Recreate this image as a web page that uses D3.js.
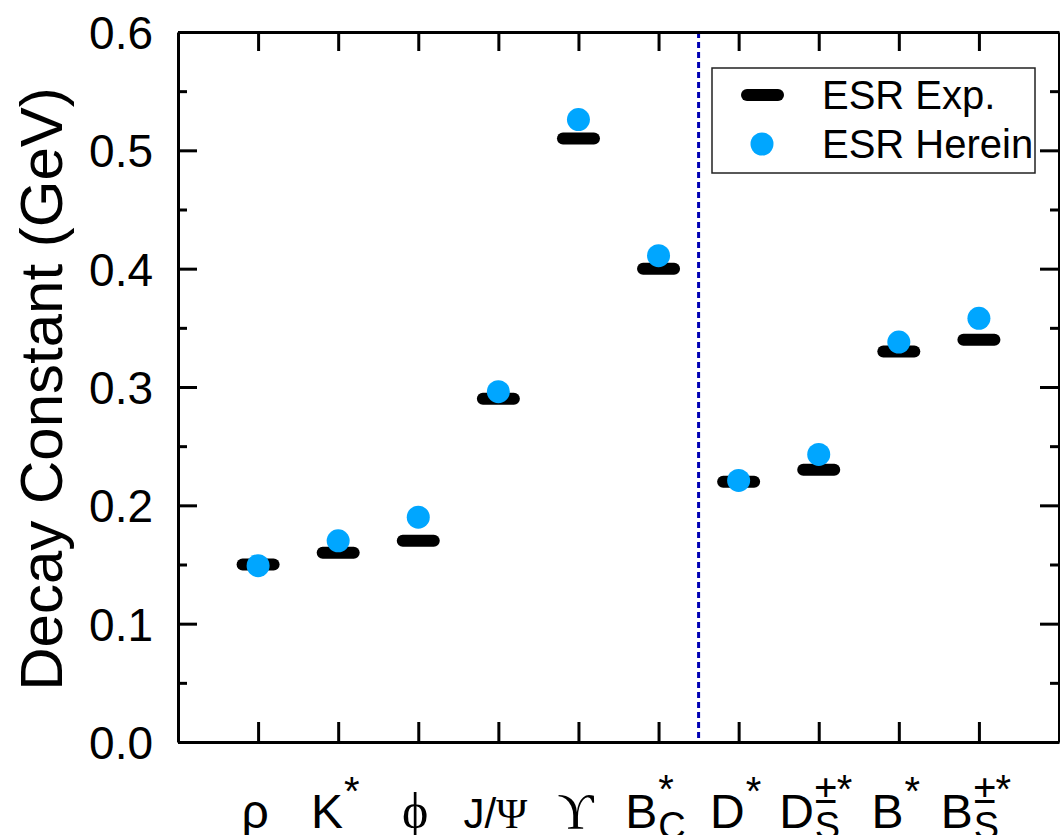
<!DOCTYPE html>
<html><head><meta charset="utf-8">
<script src="https://cdn.jsdelivr.net/npm/d3@7"></script>
<style>body{margin:0;background:#fff} svg{display:block}</style>
</head><body><svg id="c" width="1060" height="835"></svg>
<script>
// ---- data ----
const categories = ["rho","K*","phi","J/Psi","Upsilon","Bc*","D*","Ds*","B*","Bs*"];
const labelBase = ["ρ","K","ϕ","J/Ψ","ϒ","B","D","D","B","B"];
const labelSub  = ["","","","","","C","","S","","S"];
const labelSup  = ["","*","","","","*","*","±*","*","±*"];
const esrExp    = [0.150,0.160,0.170,0.290,0.510,0.400,0.220,0.230,0.330,0.340];
const esrHerein = [0.149,0.170,0.190,0.296,0.526,0.411,0.221,0.243,0.338,0.358];
const yMajor = [0,0.1,0.2,0.3,0.4,0.5,0.6];
const yMinor = [0.05,0.15,0.25,0.35,0.45,0.55];
const yTickLabels = ["0.0","0.1","0.2","0.3","0.4","0.5","0.6"];
const separatorAt = 6.5;
const legendNames = ["ESR Exp.","ESR Herein"];

// ---- layout ----
const svg = d3.select("#c");
const L=178, R=1059, T=32, B=742;
const x = d3.scaleLinear().domain([0,11]).range([L,R]);
const y = d3.scaleLinear().domain([0,0.6]).range([B,T]);
const pos = categories.map((d,i)=>i+1);
const SANS = "Liberation Sans, Arial, sans-serif";
const SERIF = "Liberation Serif, DejaVu Serif, serif";
const BLUE = "#00a6ff";

// separator
svg.append("line").attr("x1",x(separatorAt)).attr("x2",x(separatorAt))
  .attr("y1",y(0.6)).attr("y2",y(0)).attr("stroke","#0000b4")
  .attr("stroke-width",3).attr("stroke-dasharray","6,4");

function styleAxis(g){
  g.select(".domain").attr("stroke","#000").attr("stroke-width",3);
  g.selectAll(".tick line").attr("stroke","#000").attr("stroke-width",3);
}
// left axis
const gl = svg.append("g").attr("transform",`translate(${L},0)`)
  .call(d3.axisLeft(y).tickValues(yMajor).tickSizeInner(-19).tickSizeOuter(0).tickPadding(25)
    .tickFormat((d,i)=>yTickLabels[i]));
styleAxis(gl);
gl.selectAll(".tick text").attr("font-family",SANS).attr("font-size",46).attr("fill","#000").attr("dy","0.36em");
svg.append("g").attr("transform",`translate(${L},0)`)
  .call(d3.axisLeft(y).tickValues(yMinor).tickSize(-9).tickFormat("")).call(styleAxis)
  .select(".domain").remove();
// right axis
svg.append("g").attr("transform",`translate(${R},0)`)
  .call(d3.axisRight(y).tickValues(yMajor).tickSizeInner(-19).tickSizeOuter(0).tickFormat("")).call(styleAxis);
svg.append("g").attr("transform",`translate(${R},0)`)
  .call(d3.axisRight(y).tickValues(yMinor).tickSize(-9).tickFormat("")).call(styleAxis)
  .select(".domain").remove();
// bottom axis
svg.append("g").attr("transform",`translate(0,${B})`)
  .call(d3.axisBottom(x).tickValues(pos).tickSizeInner(-20).tickSizeOuter(0).tickFormat("")).call(styleAxis);
// top axis
svg.append("g").attr("transform",`translate(0,${T})`)
  .call(d3.axisTop(x).tickValues(pos).tickSizeInner(-19).tickSizeOuter(0).tickFormat("")).call(styleAxis);

// y title
svg.append("text").attr("transform",`translate(62,${(T+B)/2 + 2}) rotate(-90)`)
  .attr("text-anchor","middle").attr("font-family",SANS).attr("font-size",60)
  .text("Decay Constant (GeV)");

// x labels
const serifChars = "ϕΨϒ";
pos.forEach((p,i)=>{
  const g = svg.append("g");
  const multi = labelBase[i].length>1;
  const t = g.append("text").attr("y",828).attr("font-family",SANS);
  for(const ch of labelBase[i]){
    const serif = serifChars.includes(ch);
    t.append("tspan").attr("font-family",serif?SERIF:SANS)
      .attr("font-size", multi?42:(serif?50:48)).text(ch);
  }
  const bw = t.node().getComputedTextLength();
  let extra = 0;
  if(labelSub[i]){
    const s = g.append("text").attr("x",bw+1).attr("y",839).attr("font-size",38).attr("font-family",SANS).text(labelSub[i]);
    extra = Math.max(extra, s.node().getComputedTextLength()+1);
  }
  if(labelSup[i]){
    const s = g.append("text").attr("x",bw+1).attr("y",labelSub[i]?803:805).attr("font-size",40).attr("font-family",SANS).text(labelSup[i]);
    extra = Math.max(extra, s.node().getComputedTextLength()+1);
  }
  const total = bw+extra;
  g.attr("transform",`translate(${x(p)-total/2 - 3},0)`);
});

// exp markers
svg.append("g").selectAll("rect").data(esrExp).join("rect")
  .attr("x",(d,i)=>x(pos[i])-21.5).attr("y",d=>y(d)-6)
  .attr("width",43).attr("height",12).attr("rx",6).attr("fill","#000");
// herein markers
svg.append("g").selectAll("circle").data(esrHerein).join("circle")
  .attr("cx",(d,i)=>x(pos[i])).attr("cy",d=>y(d)).attr("r",11.5).attr("fill",BLUE);

// legend
const lg = svg.append("g");
lg.append("rect").attr("x",712).attr("y",68).attr("width",323).attr("height",105)
  .attr("fill","#fff").attr("stroke","#222").attr("stroke-width",1.5);
lg.append("rect").attr("x",741).attr("y",89).attr("width",43).attr("height",12).attr("rx",6).attr("fill","#000");
lg.append("circle").attr("cx",762).attr("cy",144).attr("r",11.5).attr("fill",BLUE);
lg.selectAll("text.l").data(legendNames).join("text").attr("class","l")
  .attr("x",822).attr("y",(d,i)=>109+i*49).attr("font-family",SANS).attr("font-size",40).text(d=>d);
</script></body></html>
